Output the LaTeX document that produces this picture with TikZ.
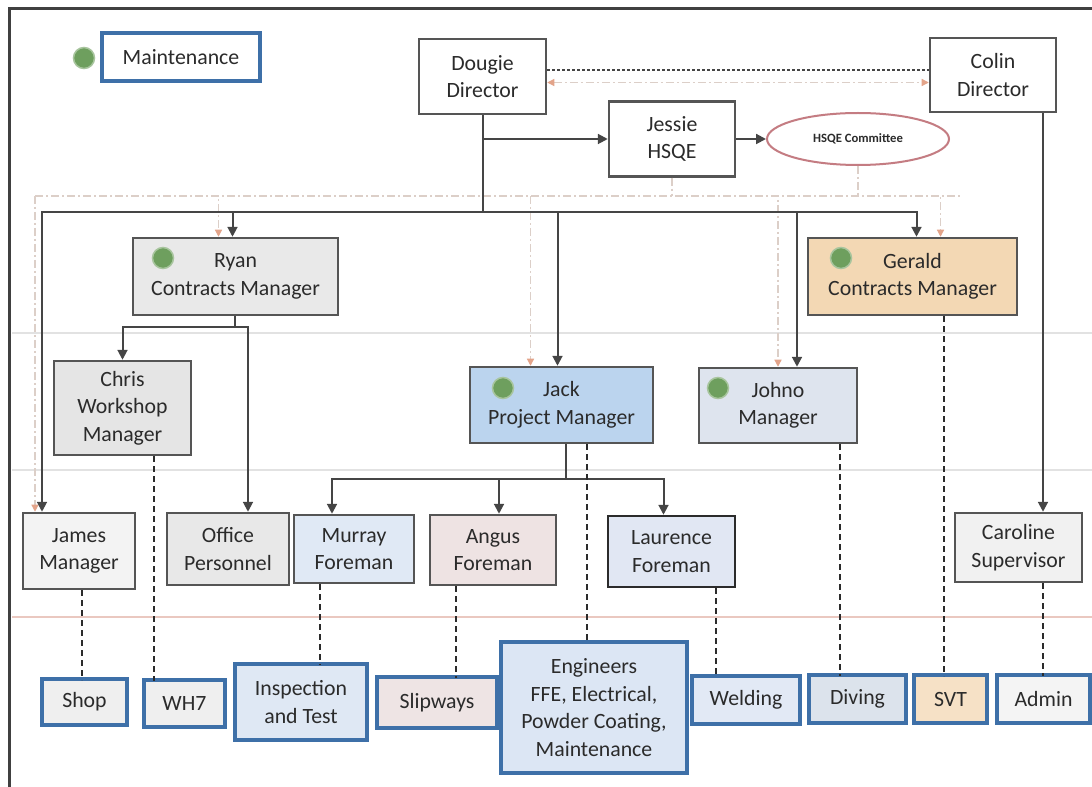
\documentclass[tikz,border=0pt]{standalone}
\usepackage{fontspec}
\setmainfont{Carlito}
\usetikzlibrary{arrows.meta,shapes.geometric}

\newlength\pxl
\setlength\pxl{0.025cm}

\definecolor{ink}{HTML}{2B2B2B}
\definecolor{boxline}{HTML}{555555}
\definecolor{linkgrey}{HTML}{454545}
\definecolor{leafblue}{HTML}{3E70A8}
\definecolor{dotgreen}{HTML}{6E9F5E}
\definecolor{hsqeline}{HTML}{C47C82}
\definecolor{ghostline}{HTML}{DCCFC8}
\definecolor{ghosttip}{HTML}{E3A48A}
\definecolor{rulegrey}{HTML}{E2E2E2}
\definecolor{rulepink}{HTML}{EAC8C0}
% box fills
\definecolor{ryanfill}{HTML}{E9E9E9}
\definecolor{chrisfill}{HTML}{E5E5E5}
\definecolor{officefill}{HTML}{E8E8E8}
\definecolor{jamesfill}{HTML}{F3F3F3}
\definecolor{carolfill}{HTML}{F1F1F1}
\definecolor{jackfill}{HTML}{BBD4EE}
\definecolor{johnofill}{HTML}{DEE4EE}
\definecolor{geraldfill}{HTML}{F3D8B4}
\definecolor{murrayfill}{HTML}{E0E9F5}
\definecolor{angusfill}{HTML}{EEE3E3}
\definecolor{laurfill}{HTML}{E1E7F3}
% team fills
\definecolor{shopfill}{HTML}{EFEFEF}
\definecolor{inspfill}{HTML}{DFE8F4}
\definecolor{slipfill}{HTML}{EEE4E4}
\definecolor{engfill}{HTML}{DCE6F4}
\definecolor{weldfill}{HTML}{E2E9F5}
\definecolor{divefill}{HTML}{DCE3EC}
\definecolor{svtfill}{HTML}{F6E1C6}
\definecolor{adminfill}{HTML}{F4F4F4}

\begin{document}
\begin{tikzpicture}[x=0.025cm,y=-0.025cm,
  every node/.style={font=\fontsize{15.5}{19.5}\selectfont,text=ink,align=center,inner sep=0pt},
  sz/.style 2 args={minimum width=#1\pxl,minimum height=#2\pxl},
  box/.style={rectangle,draw=boxline,line width=2.5\pxl},
  leaf/.style={rectangle,draw=leafblue,line width=4\pxl},
  dot/.style={circle,fill=dotgreen,draw=dotgreen!60!white,line width=1.5\pxl,minimum size=21\pxl},
  link/.style={draw=linkgrey,line width=2\pxl},
  arr/.style={link,-{Triangle[length=7pt,width=7pt]}},
  dline/.style={draw=ink,line width=2.2\pxl,dash pattern=on 6\pxl off 4\pxl},
  ghost/.style={draw=ghostline,line width=1.2\pxl,dash pattern=on 8\pxl off 3\pxl on 2\pxl off 3\pxl},
  garr/.style={ghost,-{Triangle[length=5pt,width=5pt,color=ghosttip]}},
  rule/.style={line width=1.5\pxl}]

  \fill[white] (0,0) rectangle (1092,787);
  \useasboundingbox (0,0) rectangle (1092,787);

  % faint row rules
  \draw[rule,draw=rulegrey] (12,333) -- (1092,333);
  \draw[rule,draw=rulegrey] (12,470) -- (1092,470);
  \draw[rule,draw=rulepink] (12,617) -- (1092,617);

  % legend
  \node[dot] (keydot) at (84,58) {};
  \node[leaf,fill=white,sz={158}{48}] (maint) at (181,57) {Maintenance};

  % directors and HSQE
  \node[box,fill=white,sz={127}{75}] (dougie) at (482.5,76.5) {Dougie\\Director};
  \node[box,fill=white,sz={126}{74}] (colin) at (993,75) {Colin\\Director};
  \node[box,fill=white,sz={126}{75}] (jessie) at (672,139) {Jessie\\HSQE};
  \node[ellipse,draw=hsqeline,line width=2\pxl,sz={182}{52},
    font=\fontsize{9}{10}\selectfont\bfseries] (hsqe) at (858,139) {HSQE Committee};

  % managers
  \node[box,fill=ryanfill,sz={205}{77}] (ryan) at (235.5,276.5) {Ryan\\Contracts Manager};
  \node[dot] (ryandot) at (163,258) {};
  \node[box,fill=geraldfill,sz={209}{77}] (gerald) at (912.5,276.5) {Gerald\\Contracts Manager};
  \node[dot] (geralddot) at (841,258) {};
  \node[box,fill=chrisfill,sz={137}{94}] (chris) at (122.5,408) {Chris\\Workshop\\Manager};
  \node[box,fill=jackfill,sz={183}{76}] (jack) at (561.5,405) {Jack\\Project Manager};
  \node[dot] (jackdot) at (503,388) {};
  \node[box,fill=johnofill,sz={158}{75}] (johno) at (778,405.5) {Johno\\Manager};
  \node[dot] (johnodot) at (718,388) {};

  % supervisors and foremen
  \node[box,fill=jamesfill,sz={112}{76}] (james) at (79,551) {James\\Manager};
  \node[box,fill=officefill,sz={122}{72}] (office) at (228,549) {Office\\Personnel};
  \node[box,fill=murrayfill,sz={120}{68}] (murray) at (354,549) {Murray\\Foreman};
  \node[box,fill=angusfill,sz={126}{70}] (angus) at (493,550) {Angus\\Foreman};
  \node[box,fill=laurfill,draw=ink,sz={127}{71}] (laurence) at (671.5,551.5) {Laurence\\Foreman};
  \node[box,fill=carolfill,sz={127}{69}] (caroline) at (1018.5,547.5) {Caroline\\Supervisor};

  % teams
  \node[leaf,fill=shopfill,sz={85}{46}] (shop) at (84.5,702) {Shop};
  \node[leaf,fill=shopfill,sz={81}{47}] (wh7) at (184.5,703.5) {WH7};
  \node[leaf,fill=inspfill,sz={132}{76}] (insp) at (301,702) {Inspection\\and Test};
  \node[leaf,fill=slipfill,sz={120}{51}] (slip) at (437,702.5) {Slipways};
  \node[leaf,fill=engfill,sz={186}{131}] (eng) at (594,707.5)
    {Engineers\\FFE, Electrical,\\Powder Coating,\\Maintenance};
  \node[leaf,fill=weldfill,sz={108}{48}] (weld) at (746,700) {Welding};
  \node[leaf,fill=divefill,sz={97}{48}] (diving) at (857.5,699) {Diving};
  \node[leaf,fill=svtfill,sz={73}{48}] (svt) at (950.5,699) {SVT};
  \node[leaf,fill=adminfill,sz={93}{48}] (admin) at (1043.5,699) {Admin};

  % HSQE reporting lines
  \coordinate (gl) at (35,196);
  \coordinate (gr) at (960,196);
  \draw[ghost] (gl) -- (gr);
  \draw[ghost] (hsqe.south) -- (hsqe.south |- gl);
  \draw[ghost] (jessie.south) -- (jessie.south |- gl);
  \draw[garr] (gl) -| ([xshift=-44\pxl]james.north);
  \draw[garr] (gl) -| ([xshift=-17\pxl]ryan.north);
  \draw[garr] (gl) -| ([xshift=-31\pxl]jack.north);
  \draw[garr] (gl) -| (johno.north);
  \draw[garr] (gl) -| ([xshift=28\pxl]gerald.north);
  \coordinate (dg) at ([yshift=-6\pxl]dougie.east);
  \draw[ghost,{Triangle[length=5pt,width=5pt,color=ghosttip]}-{Triangle[length=5pt,width=5pt,color=ghosttip]}]
    (dg) -- (dg -| colin.west);

  % line management
  \coordinate (dc) at ([yshift=6\pxl]dougie.east);
  \draw[link,dash pattern=on 3\pxl off 2\pxl] (dc) -- (dc -| colin.west);
  \draw[arr] (dougie.south) |- (jessie.west);
  \draw[arr] (jessie.east) -- (hsqe.west);
  \draw[link] (dougie.south) -- ++(0,97) coordinate (bus);
  \draw[arr] (bus) -| ([xshift=-37\pxl]james.north);
  \draw[arr] (bus) -| ([xshift=-3\pxl]ryan.north);
  \draw[arr] (bus) -| ([xshift=-4\pxl]jack.north);
  \draw[arr] (bus) -| ([xshift=19\pxl]johno.north);
  \draw[arr] (bus) -| ([xshift=4\pxl]gerald.north);

  \draw[link] ([xshift=-1\pxl]ryan.south) -- ++(0,11) coordinate (rj);
  \draw[arr] (rj) -| (chris.north);
  \draw[arr] (rj) -| ([xshift=20\pxl]office.north);

  \draw[link] ([xshift=4\pxl]jack.south) -- ++(0,35) coordinate (jj);
  \draw[arr] (jj) -| ([xshift=-22\pxl]murray.north);
  \draw[arr] (jj) -| ([xshift=6\pxl]angus.north);
  \draw[arr] (jj) -| ([xshift=-8\pxl]laurence.north);

  \coordinate (cc) at ([xshift=50\pxl]colin.south);
  \draw[arr] (cc) -- (cc |- caroline.north);

  % links to teams
  \draw[dline] ([xshift=3\pxl]james.south) -- ++(0,90);
  \draw[dline] ([xshift=31.5\pxl]chris.south) -- ++(0,225);
  \draw[dline] ([xshift=-34\pxl]murray.south) -- ++(0,81);
  \draw[dline] ([xshift=-37\pxl]angus.south) -- ++(0,92);
  \draw[dline] ([xshift=25.5\pxl]jack.south) -- ++(0,199);
  \draw[dline] ([xshift=44.5\pxl]laurence.south) -- ++(0,89);
  \draw[dline] ([xshift=62\pxl]johno.south) -- ++(0,232);
  \draw[dline] ([xshift=31.5\pxl]gerald.south) -- ++(0,360);
  \draw[dline] ([xshift=24.5\pxl]caroline.south) -- ++(0,93);

  % page frame
  \draw[line width=3\pxl,black!75] (9,787) -- (9,9) -- (1092,9);
\end{tikzpicture}
\end{document}
